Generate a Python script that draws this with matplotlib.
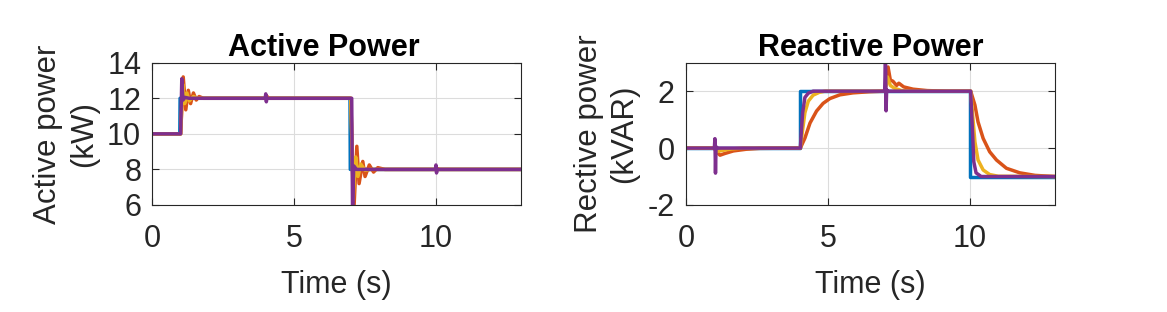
import matplotlib

matplotlib.use("Agg")
import matplotlib.pyplot as plt

plt.rcParams["font.family"] = ["Liberation Sans", "DejaVu Sans"]
plt.rcParams["axes.unicode_minus"] = False

# MATLAB default line colours
BLUE, RED, YELLOW, PURPLE = "#0072BD", "#D95319", "#EDB120", "#7E2F8E"

# --- Active power (kW) --------------------------------------------------------------
p_blue_t = [0, 0.97, 0.98, 6.97, 6.98, 13]
p_blue_v = [10, 10, 12, 12, 8, 8]

p_red_t = [0, 1.0, 1.09, 1.18, 1.27, 1.35, 1.45, 1.55, 1.65, 1.8, 2.0, 4.0, 4.05, 4.1,
           7.0, 7.1, 7.21, 7.29, 7.42, 7.5, 7.65, 7.8, 7.95, 8.2, 10.0, 10.05, 10.1, 13]
p_red_v = [10, 10, 13.2, 11.35, 12.45, 11.7, 12.3, 11.9, 12.1, 12.0, 12, 12, 12.1, 12,
           12, 5.5, 9.3, 7.2, 8.45, 7.6, 8.25, 7.85, 8.1, 8.0, 8.0, 8.05, 8.0, 8.0]

p_yel_t = [0, 1.0, 1.07, 1.14, 1.22, 1.3, 1.45, 1.6, 7.0, 7.08, 7.17, 7.25, 7.35, 7.5, 7.7, 13]
p_yel_v = [10, 10, 12.8, 11.7, 12.3, 11.85, 12.1, 12, 12, 6.3, 8.7, 7.6, 8.3, 7.95, 8.0, 8.0]

p_pur_t = [0, 1.0, 1.04, 1.08, 1.15, 1.3, 3.98, 4.0, 4.02, 4.04,
           7.03, 7.06, 7.1, 7.2, 9.98, 10.0, 10.02, 10.04, 13]
p_pur_v = [10, 10, 13.1, 11.9, 12.05, 12.0, 12, 12.25, 11.8, 12.0,
           12, 5.5, 8.2, 8.0, 8.0, 8.25, 7.8, 8.0, 8.0]

# --- Reactive power (kVAR) ----------------------------------------------------------
q_blue_t = [0, 4.0, 4.0, 10.0, 10.0, 13]
q_blue_v = [0, 0, 2, 2, -1, -1]

q_red_t = [0, 1.0, 1.05, 1.2, 1.37, 1.67, 2.13, 2.6, 4.03, 4.19, 4.37, 4.60, 4.83, 5.07,
           5.42, 5.88, 6.46, 7.0, 7.05, 7.12, 7.2, 7.29, 7.42, 7.5, 7.67, 8.0, 8.5, 9.2,
           10.03, 10.18, 10.29, 10.47, 10.70, 10.94, 11.29, 11.76, 12.3, 13]
q_red_v = [0, 0, -0.1, -0.25, -0.19, -0.1, -0.04, -0.01, 0, 0.35, 0.88, 1.30, 1.57, 1.74,
           1.87, 1.94, 1.98, 2.0, 2.3, 2.85, 2.39, 2.35, 2.2, 2.28, 2.15, 2.07, 2.02, 2.0,
           2.0, 1.51, 0.92, 0.34, -0.13, -0.42, -0.71, -0.87, -0.96, -1.0]

q_yel_t = [0, 1.0, 1.1, 1.3, 1.6, 2.0, 4.03, 4.11, 4.19, 4.31, 4.48, 4.7, 4.9,
           7.0, 7.05, 7.1, 7.2, 7.35, 7.6, 8.0, 10.03, 10.12, 10.18, 10.29, 10.47, 10.7, 11.0, 13]
q_yel_v = [0, 0, -0.12, -0.08, -0.03, 0, 0, 0.64, 1.24, 1.65, 1.86, 1.96, 2.0,
           2.0, 2.2, 2.5, 2.2, 2.1, 2.02, 2.0, 2.0, 0.92, 0.22, -0.42, -0.77, -0.93, -0.99, -1.0]

q_pur_t = [0, 1.0, 1.02, 1.04, 1.06, 1.1, 4.03, 4.06, 4.11, 4.19, 4.31, 4.48,
           7.0, 7.03, 7.05, 7.07, 7.1, 10.03, 10.1, 10.14, 10.22, 10.4, 13]
q_pur_v = [0, 0, 0.33, -0.88, 0.05, 0, 0, 0.5, 1.24, 1.78, 1.93, 2.0,
           2.0, 3.3, 1.31, 2.05, 2.0, 2.0, 0.46, -0.48, -0.87, -1.0, -1.0]

x_ticks = [0, 5, 10]
p_ticks = [6, 8, 10, 12, 14]
q_ticks = [-2, 0, 2]


def style_axes(ax, ylim, yticks, title, ylabel, title_x):
    ax.set_xlim(0, 13)
    ax.set_ylim(*ylim)
    ax.set_xticks(x_ticks)
    ax.set_yticks(yticks)
    ax.grid(True, color="#dcdcdc", linewidth=0.8)
    ax.set_axisbelow(True)
    ax.tick_params(direction="in", top=True, right=True, labelsize=22,
                   colors="#262626", length=5, width=0.8)
    ax.tick_params(axis="x", pad=14)
    ax.tick_params(axis="y", pad=8)
    for s in ax.spines.values():
        s.set_color("#262626")
        s.set_linewidth(0.8)
    ax.set_title(title, fontsize=22, fontweight="bold", pad=5, x=title_x)
    ax.set_xlabel("Time (s)", fontsize=22, color="#262626", labelpad=11)
    ax.set_ylabel(ylabel, fontsize=22.5, color="#262626", labelpad=6, linespacing=1.25)


fig = plt.figure(figsize=(11.67, 3.12), dpi=100)
ax1 = fig.add_axes([0.1305, 0.343, 0.316, 0.456])
ax2 = fig.add_axes([0.5878, 0.343, 0.3162, 0.456])

lw = 2.5
for t, v, c in ((p_blue_t, p_blue_v, BLUE), (p_red_t, p_red_v, RED),
                (p_yel_t, p_yel_v, YELLOW), (p_pur_t, p_pur_v, PURPLE)):
    ax1.plot(t, v, color=c, linewidth=lw)
for t, v, c in ((q_blue_t, q_blue_v, BLUE), (q_red_t, q_red_v, RED),
                (q_yel_t, q_yel_v, YELLOW), (q_pur_t, q_pur_v, PURPLE)):
    ax2.plot(t, v, color=c, linewidth=lw)

style_axes(ax1, (6, 14), p_ticks, "Active Power", "Active power\n(kW)", 0.465)
style_axes(ax2, (-2, 3), q_ticks, "Reactive Power", "Rective power\n(kVAR)", 0.5)

fig.savefig("out.png", dpi=100)
